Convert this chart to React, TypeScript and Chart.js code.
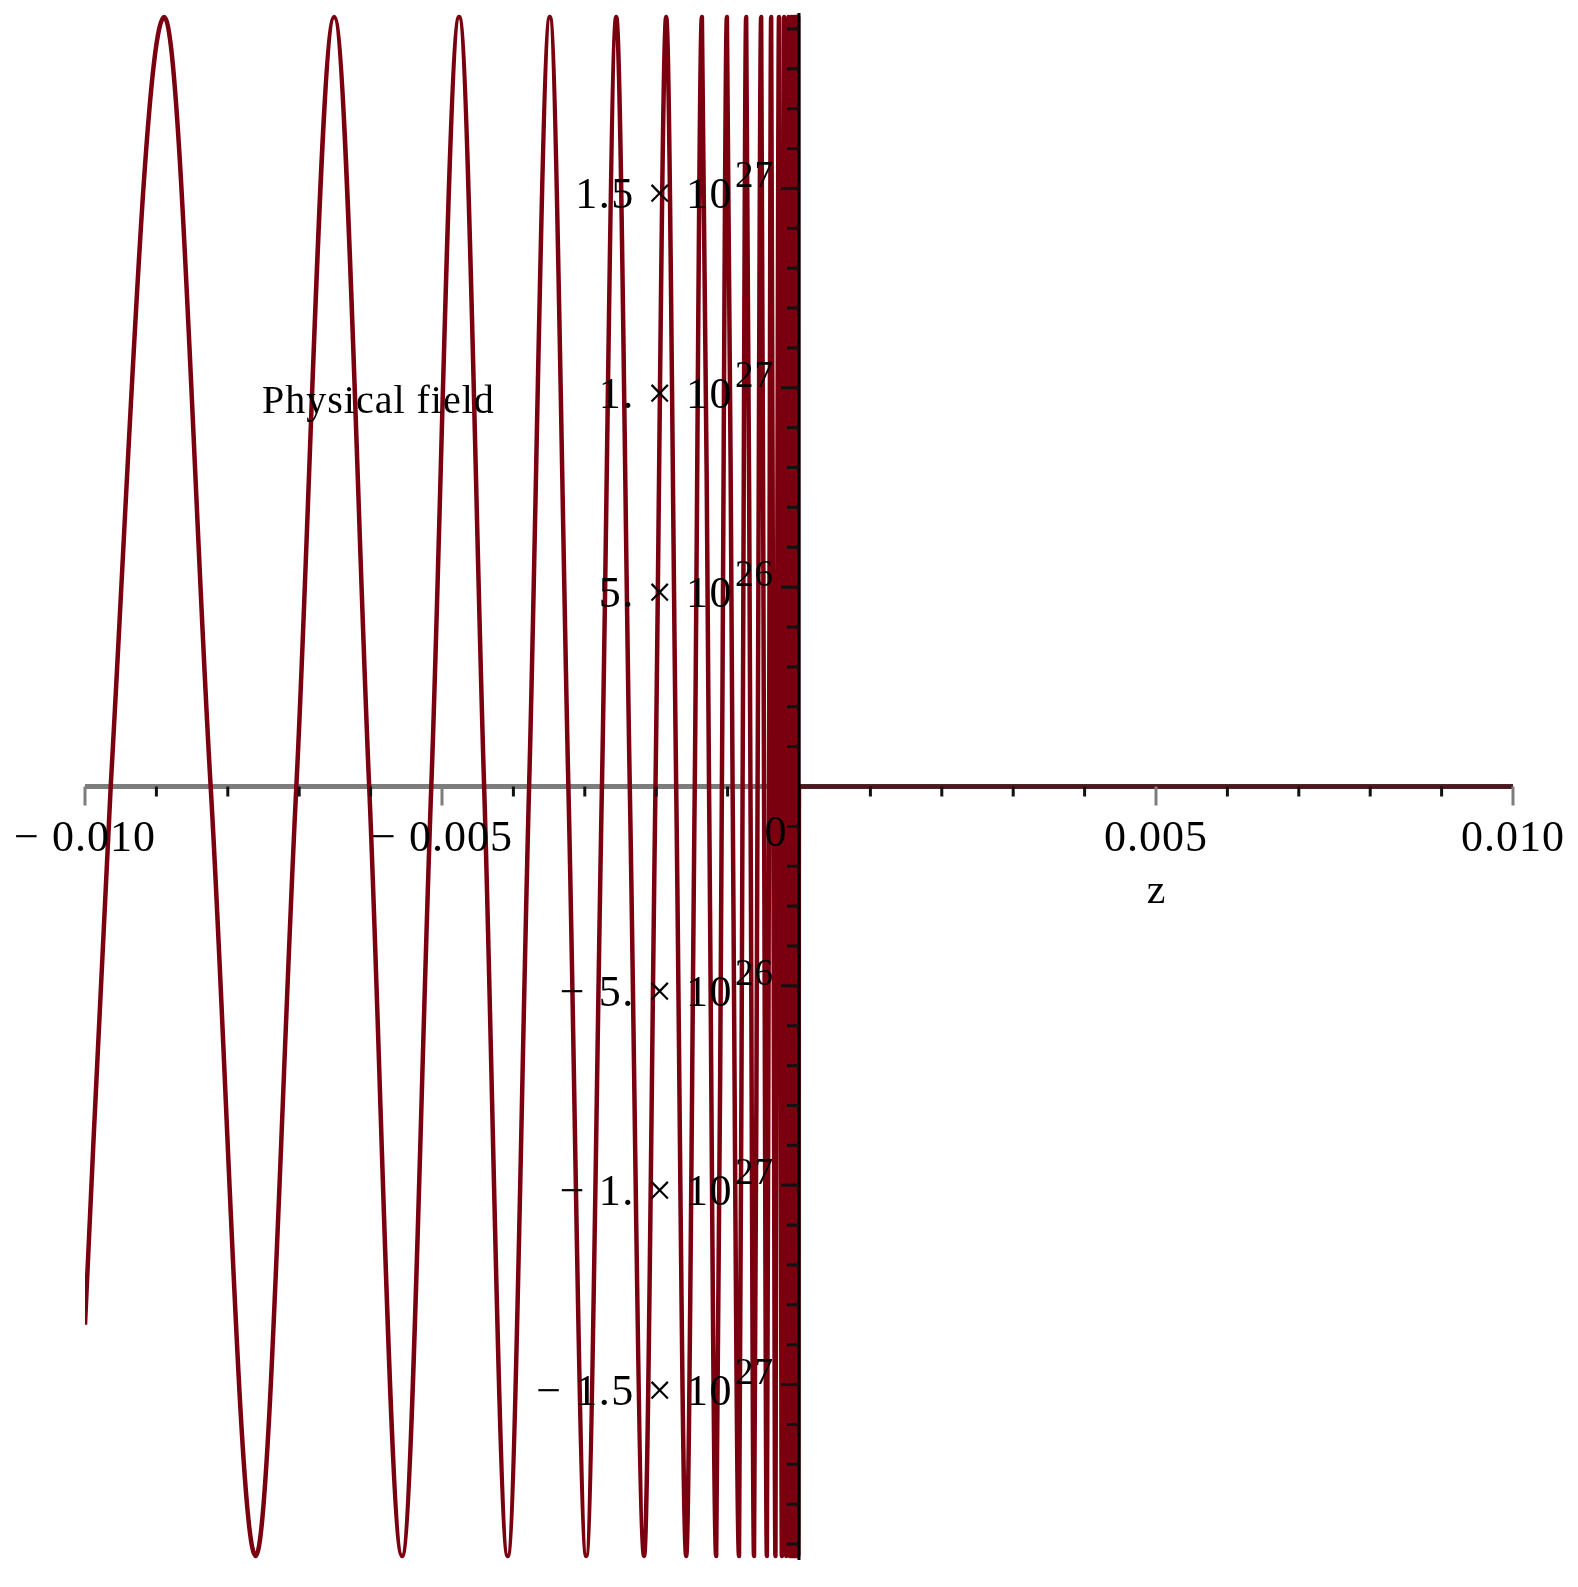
import { useEffect, useRef } from "react";
import { Chart, registerables } from "chart.js";

Chart.register(...registerables);

// ---- data (z positions of extrema / zero crossings) ----
const zPoints = [
  -0.0100, -0.00964, -0.00889, -0.00824, -0.00761, -0.00704,
  -0.00651, -0.00602, -0.00556, -0.00515, -0.00476, -0.00441,
  -0.00408, -0.00378, -0.00349, -0.00323, -0.00298, -0.00276,
  -0.00256, -0.00237, -0.00217, -0.00201, -0.00186, -0.00172,
  -0.00158, -0.00146, -0.00136, -0.00126, -0.00116, -0.00108,
  -0.00101, -0.00093, -0.00084, -0.00079, -0.00074, -0.00068,
  -0.00063, -0.00058, -0.00053, -0.00049, -0.00045, -0.00042,
  -0.00039, -0.00036, -0.00033, -0.00031, -0.00028, -0.00026,
  -0.00024, -0.00022, -0.00021, -0.00019, -0.00018, -0.00016,
  -0.00015, -0.00014, -0.00013, -0.00011, -0.000094, -0.00008,
  -0.000069, -0.000059, -0.00005, -0.000043, -0.000037, -0.000031,
  -0.000027, -0.000023, -0.00002, -0.000017, -0.000014, -0.000012,
  -0.00001, 0, 0.01,
];

const fieldPoints = [
  -1.35e27, 0, 1.93e27, 0, -1.93e27, 0,
  1.93e27, 0, -1.93e27, 0, 1.93e27, 0,
  -1.93e27, 0, 1.93e27, 0, -1.93e27, 0,
  1.93e27, 0, -1.93e27, 0, 1.93e27, 0,
  -1.93e27, 0, 1.93e27, 0, -1.93e27, 0,
  1.93e27, 0, -1.93e27, 0, 1.93e27, 0,
  -1.93e27, 0, 1.93e27, 0, -1.93e27, 0,
  1.93e27, 0, -1.93e27, 0, 1.93e27, 0,
  -1.93e27, 0, 1.93e27, 0, -1.93e27, 0,
  1.93e27, 0, -1.93e27, 1.93e27, -1.93e27, 1.93e27,
  -1.93e27, 1.93e27, -1.93e27, 1.93e27, -1.93e27, 1.93e27,
  -1.93e27, 1.93e27, -1.93e27, 1.93e27, -1.93e27, 1.93e27,
  -1.93e27, 0, 0,
];

const xRange = [-0.01, 0.01];
const yRange = [-1.94e27, 1.94e27];

const xMajorTicks = [-0.01, -0.005, 0.005, 0.01];
const xTickLabels = ["\u2212 0.010", "\u2212 0.005", "0.005", "0.010"];
const xMinorTicks = [-0.009, -0.008, -0.007, -0.006, -0.004, -0.003, -0.002, -0.001,
  0.001, 0.002, 0.003, 0.004, 0.006, 0.007, 0.008, 0.009];
const xZeroLabel = "0";

const yMajorTicks = [1.5e27, 1e27, 5e26, -5e26, -1e27, -1.5e27];
const yTickMantissas = ["1.5 \u00d7 10", "1. \u00d7 10", "5. \u00d7 10",
  "\u2212 5. \u00d7 10", "\u2212 1. \u00d7 10", "\u2212 1.5 \u00d7 10"];
const yTickExponents = ["27", "27", "26", "26", "27", "27"];
const yMinorTicks = [
  1.9e27, 1.8e27, 1.7e27, 1.6e27, 1.4e27, 1.3e27, 1.2e27, 1.1e27,
  9e26, 8e26, 7e26, 6e26, 4e26, 3e26, 2e26, 1e26,
  -1e26, -2e26, -3e26, -4e26, -6e26, -7e26, -8e26, -9e26,
  -1.1e27, -1.2e27, -1.3e27, -1.4e27, -1.6e27, -1.7e27, -1.8e27, -1.9e27,
];

const xAxisTitle = "z";
const yAxisTitle = "Physical field";

const CURVE_COLOR = "#7a0010";
const FONT = '"Liberation Serif", "Times New Roman", Times, serif';

const mapleAxes = {
  id: "mapleAxes",
  beforeDatasetsDraw(chart: any) {
    const { ctx, scales } = chart;
    const xs = scales.x, ys = scales.y;
    const y0 = ys.getPixelForValue(0);
    ctx.save();
    ctx.strokeStyle = "#7d7d7d";
    ctx.lineWidth = 5;
    ctx.beginPath();
    ctx.moveTo(xs.getPixelForValue(xRange[0]), y0);
    ctx.lineTo(xs.getPixelForValue(xRange[1]), y0);
    ctx.stroke();
    ctx.restore();
  },
  afterDatasetsDraw(chart: any) {
    const { ctx, scales, chartArea } = chart;
    const xs = scales.x, ys = scales.y;
    const x0 = xs.getPixelForValue(0);
    const y0 = ys.getPixelForValue(0);
    ctx.save();

    // darkened x axis where the curve lies on it (z > 0)
    ctx.strokeStyle = "rgba(45,38,38,0.6)";
    ctx.lineWidth = 5;
    ctx.beginPath();
    ctx.moveTo(x0, y0);
    ctx.lineTo(xs.getPixelForValue(xRange[1]), y0);
    ctx.stroke();

    // y axis
    ctx.strokeStyle = "#000";
    ctx.lineWidth = 3;
    ctx.beginPath();
    ctx.moveTo(x0, chartArea.top);
    ctx.lineTo(x0, chartArea.bottom);
    ctx.stroke();

    // y ticks
    ctx.lineWidth = 3;
    ctx.strokeStyle = "#111";
    for (const v of yMinorTicks) {
      const p = ys.getPixelForValue(v);
      ctx.beginPath();
      ctx.moveTo(x0 - 12, p);
      ctx.lineTo(x0, p);
      ctx.stroke();
    }
    for (const v of yMajorTicks) {
      const p = ys.getPixelForValue(v);
      ctx.beginPath();
      ctx.moveTo(x0 - 18, p);
      ctx.lineTo(x0, p);
      ctx.stroke();
    }

    // x ticks
    ctx.strokeStyle = "#111";
    for (const v of xMinorTicks) {
      const p = xs.getPixelForValue(v);
      ctx.beginPath();
      ctx.moveTo(p, y0);
      ctx.lineTo(p, y0 + 10);
      ctx.stroke();
    }
    ctx.strokeStyle = "#7d7d7d";
    for (const v of xMajorTicks) {
      const p = xs.getPixelForValue(v);
      ctx.beginPath();
      ctx.moveTo(p, y0);
      ctx.lineTo(p, y0 + 19);
      ctx.stroke();
    }

    // x tick labels
    ctx.fillStyle = "#000";
    ctx.font = `44px ${FONT}`;
    ctx.textAlign = "center";
    ctx.textBaseline = "alphabetic";
    (ctx as any).letterSpacing = "1px";
    xMajorTicks.forEach((v, i) => {
      ctx.fillText(xTickLabels[i], xs.getPixelForValue(v), y0 + 64);
    });
    ctx.fillText(xZeroLabel, x0 - 23, y0 + 59);

    // y tick labels with superscript exponents
    yMajorTicks.forEach((v, i) => {
      const p = ys.getPixelForValue(v);
      ctx.font = `44px ${FONT}`;
      ctx.textAlign = "right";
      (ctx as any).letterSpacing = "1.5px";
      ctx.fillText(yTickMantissas[i], x0 - 66, p + 20);
      (ctx as any).letterSpacing = "1px";
      ctx.font = `37px ${FONT}`;
      ctx.textAlign = "left";
      ctx.fillText(yTickExponents[i], x0 - 64, p - 1);
    });

    // axis titles
    (ctx as any).letterSpacing = "0px";
    ctx.font = `42px ${FONT}`;
    ctx.textAlign = "center";
    ctx.fillText(xAxisTitle, xs.getPixelForValue(0.005), y0 + 116);

    ctx.font = `40px ${FONT}`;
    ctx.textAlign = "left";
    (ctx as any).letterSpacing = "1px";
    ctx.fillText(yAxisTitle, 262, 413);
    (ctx as any).letterSpacing = "0px";

    ctx.restore();
  },
};

export default function App() {
  const ref = useRef<HTMLCanvasElement>(null);
  useEffect(() => {
    const canvas = ref.current;
    if (!canvas) return;
    const chart = new Chart(canvas, {
      type: "line",
      data: {
        datasets: [
          {
            data: zPoints.map((z, i) => ({ x: z, y: fieldPoints[i] })),
            borderColor: CURVE_COLOR,
            borderWidth: 4.5,
            pointRadius: 0,
            cubicInterpolationMode: "monotone",
            borderJoinStyle: "round",
            fill: false,
          },
        ],
      },
      options: {
        animation: false,
        responsive: false,
        devicePixelRatio: 1,
        events: [],
        layout: { padding: { left: 85, right: 65, top: 13, bottom: 27 } },
        scales: {
          x: { type: "linear", min: xRange[0], max: xRange[1], display: false },
          y: { type: "linear", min: yRange[0], max: yRange[1], display: false },
        },
        plugins: { legend: { display: false }, tooltip: { enabled: false } },
      },
      plugins: [mapleAxes],
    } as any);
    return () => chart.destroy();
  }, []);
  return (
    <canvas
      ref={ref}
      width={1578}
      height={1587}
      style={{ position: "absolute", left: 0, top: 0, display: "block", background: "#fff" }}
    />
  );
}
